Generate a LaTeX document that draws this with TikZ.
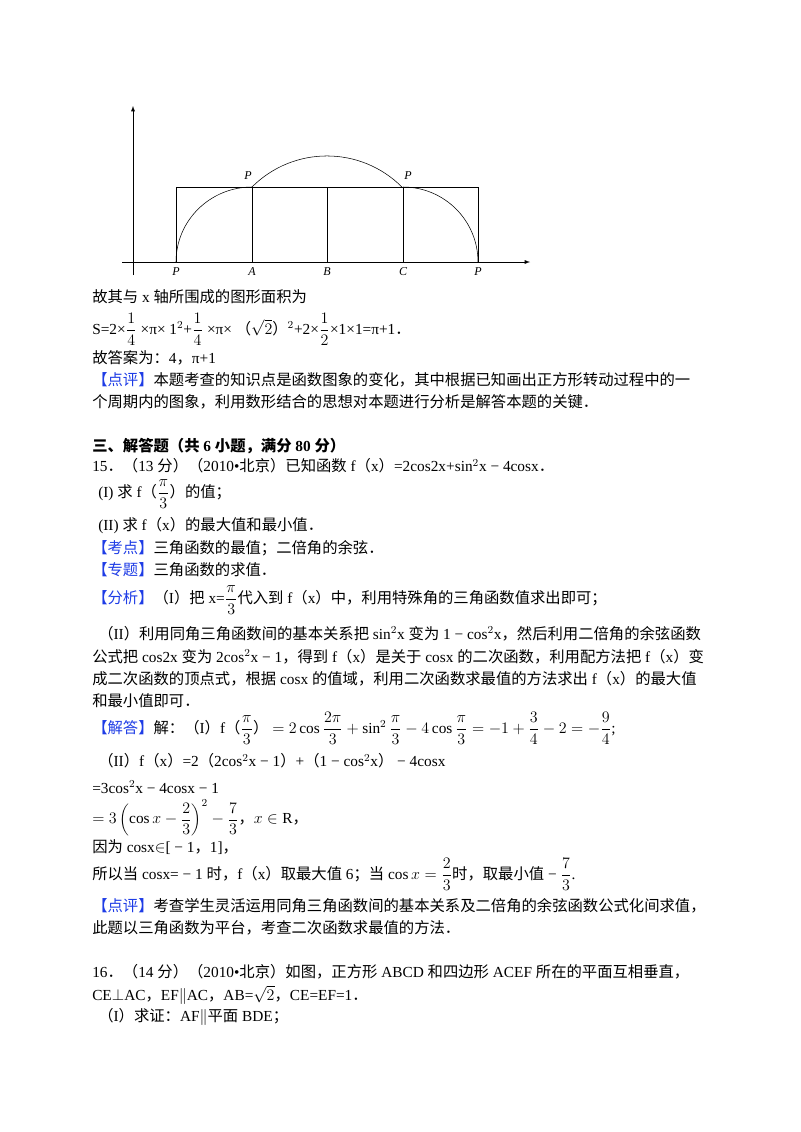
\documentclass[tikz,border=0pt]{standalone}
\usepackage{fontspec}
\setmainfont{Liberation Serif}
\newfontfamily\cjk{Noto Sans CJK SC}
\XeTeXinterchartokenstate=1
\newXeTeXintercharclass\cjkclass
\newcount\cc
\def\setrange#1#2{\cc=#1 \loop\XeTeXcharclass\cc=\cjkclass\ifnum\cc<#2 \advance\cc by 1 \repeat}
\setrange{"4E00}{"9FFF}
\setrange{"3000}{"303F}
\setrange{"FF00}{"FFEF}
\XeTeXinterchartoks 0 \cjkclass={\cjk}
\XeTeXinterchartoks 4095 \cjkclass={\cjk}
\XeTeXinterchartoks \cjkclass 0={\rmfamily}
\XeTeXinterchartoks \cjkclass 4095={\rmfamily}
\definecolor{tagblue}{RGB}{30,60,230}
\newcommand{\tg}[1]{{\color{tagblue}#1}}
\newcommand{\fr}[2]{{\displaystyle\frac{#1}{#2}}}
\begin{document}
\begin{tikzpicture}[x=0.75pt,y=-0.75pt,
  txt/.style={anchor=west,inner sep=0pt,font=\fontsize{11.5}{14}\selectfont},
  lab/.style={inner sep=0pt,font=\small\itshape},
  ln/.style={line width=0.7pt}]
\useasboundingbox[fill=white] (0,0) rectangle (800,1132);
% graph
\draw[-latex] (133,275) -- (133,106);
\draw[-latex] (122,262) -- (530,262);
\draw[ln] (176,262) -- (176,187) -- (478,187) -- (478,262);
\draw[thin] (252,187) -- (252,262);
\draw[ln] (327,187) -- (327,262);
\draw[ln] (403,187) -- (403,262);
\draw[thin] (176,262) arc (180:270:76 and 75);
\draw[thin] (403,187) arc (270:360:75 and 75);
\draw[thin] (252,187) arc (225:315:106);
\node[lab] at (176,272) {P};
\node[lab] at (252,272) {A};
\node[lab] at (327,272) {B};
\node[lab] at (403,272) {C};
\node[lab] at (478,272) {P};
\node[lab] at (248,176) {P};
\node[lab] at (408,176) {P};
% text
\node[txt] (t1) at (92,297) {故其与 x 轴所围成的图形面积为};
\node[txt] (t2) at (92,329) {S=2×$\fr{1}{4}$ ×π× 1$^2$+$\fr{1}{4}$ ×π× （$\sqrt{2}$）$^2$+2×$\fr{1}{2}$×1×1=π+1．};
\node[txt] (t3) at (92,358) {故答案为：4，π+1};
\node[txt] (t4) at (92,380) {\tg{【点评】}本题考查的知识点是函数图象的变化，其中根据已知画出正方形转动过程中的一};
\node[txt] (t5) at (92,402) {个周期内的图象，利用数形结合的思想对本题进行分析是解答本题的关键．};
\node[txt,font=\fontsize{11.5}{14}\selectfont\bfseries] (t6) at (92,446) {三、解答题（共 6 小题，满分 80 分）};
\node[txt] (t7) at (92,466) {15．（13 分）（2010•北京）已知函数 f（x）=2cos2x+sin$^2$x − 4cosx．};
\node[txt] (t8) at (98,494) {(I) 求 f（$\fr{\pi}{3}$）的值；};
\node[txt] (t9) at (98,526) {(II) 求 f（x）的最大值和最小值．};
\node[txt] (t10) at (92,548) {\tg{【考点】}三角函数的最值；二倍角的余弦．};
\node[txt] (t11) at (92,570) {\tg{【专题】}三角函数的求值．};
\node[txt] (t12) at (92,600) {\tg{【分析】}（I）把 x=$\fr{\pi}{3}$代入到 f（x）中，利用特殊角的三角函数值求出即可；};
\node[txt] (t13) at (98,634) {（II）利用同角三角函数间的基本关系把 sin$^2$x 变为 1 − cos$^2$x，然后利用二倍角的余弦函数};
\node[txt] (t14) at (92,657) {公式把 cos2x 变为 2cos$^2$x − 1，得到 f（x）是关于 cosx 的二次函数，利用配方法把 f（x）变};
\node[txt] (t15) at (92,679) {成二次函数的顶点式，根据 cosx 的值域，利用二次函数求最值的方法求出 f（x）的最大值};
\node[txt] (t16) at (92,701) {和最小值即可．};
\node[txt] (t17) at (92,728) {\tg{【解答】}解：（I）f（$\fr{\pi}{3}$） $=2\cos\fr{2\pi}{3}+\sin^2\fr{\pi}{3}-4\cos\fr{\pi}{3}=-1+\fr{3}{4}-2=-\fr{9}{4}$;};
\node[txt] (t18) at (98,761) {（II）f（x）=2（2cos$^2$x − 1）+（1 − cos$^2$x） − 4cosx};
\node[txt] (t19) at (92,787) {=3cos$^2$x − 4cosx − 1};
\node[txt] (t20) at (92,818) {$=3\left(\cos x-\fr{2}{3}\right)^2-\fr{7}{3}$，$x\in\mathrm{R}$，};
\node[txt] (t21) at (92,847) {因为 cosx$\in$[ − 1，1]，};
\node[txt] (t22) at (92,874) {所以当 cosx= − 1 时，f（x）取最大值 6；当 $\cos x=\fr{2}{3}$时，取最小值 − $\fr{7}{3}$.};
\node[txt] (t23) at (92,906) {\tg{【点评】}考查学生灵活运用同角三角函数间的基本关系及二倍角的余弦函数公式化间求值，};
\node[txt] (t24) at (92,928) {此题以三角函数为平台，考查二次函数求最值的方法．};
\node[txt] (t25) at (92,972) {16．（14 分）（2010•北京）如图，正方形 ABCD 和四边形 ACEF 所在的平面互相垂直，};
\node[txt] (t26) at (92,995) {CE$\perp$AC，EF$\parallel$AC，AB=$\sqrt{2}$，CE=EF=1．};
\node[txt] (t27) at (98,1017) {（I）求证：AF$\parallel$平面 BDE；};
\end{tikzpicture}
\end{document}
